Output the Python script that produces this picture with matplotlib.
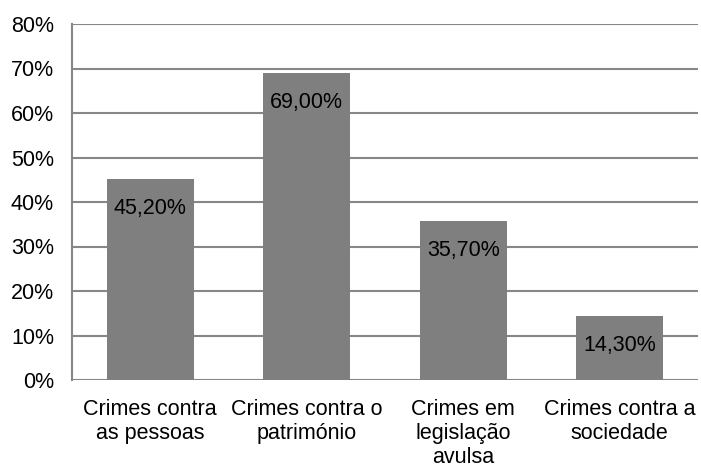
import matplotlib.pyplot as plt
from matplotlib.ticker import FuncFormatter

categories = ["Crimes contra\nas pessoas", "Crimes contra o\npatrimónio",
              "Crimes em\nlegislação\navulsa", "Crimes contra a\nsociedade"]
values = [45.2, 69.0, 35.7, 14.3]
value_labels = ["45,20%", "69,00%", "35,70%", "14,30%"]

plt.rcParams['font.family'] = ['Liberation Sans', 'DejaVu Sans']

fig = plt.figure(figsize=(7.01, 4.70), dpi=100)
ax = fig.add_axes([72 / 701, 1 - 380 / 470, 626 / 701, 356 / 470])

x = range(len(values))
bars = ax.bar(x, values, width=0.556, color='#7f7f7f', zorder=3)

# value labels sit just inside the top of each bar
for bar, text in zip(bars, value_labels):
    ax.annotate(text, (bar.get_x() + bar.get_width() / 2, bar.get_height()),
                xytext=(0, -21), textcoords='offset points',
                ha='center', va='center', fontsize=15.5, color='#000000', zorder=4)

ax.set_xlim(-0.5, len(values) - 0.5)
ax.set_ylim(0, 80)
ax.set_yticks(range(0, 81, 10))
ax.yaxis.set_major_formatter(FuncFormatter(lambda v, p: f"{int(v)}%"))
ax.set_xticks(list(x))
ax.set_xticklabels(categories, fontsize=15.5, color='#000000', linespacing=1.18)
ax.tick_params(axis='y', labelsize=15.5, labelcolor='#000000', length=0, pad=13)
ax.tick_params(axis='x', length=0, pad=14)

ax.grid(axis='y', color='#878787', linewidth=1.5, zorder=0)
for side in ['top', 'right', 'bottom']:
    ax.spines[side].set_visible(False)
ax.spines['left'].set_color('#878787')
ax.spines['left'].set_linewidth(1.5)

fig.savefig('out.png', dpi=100)
